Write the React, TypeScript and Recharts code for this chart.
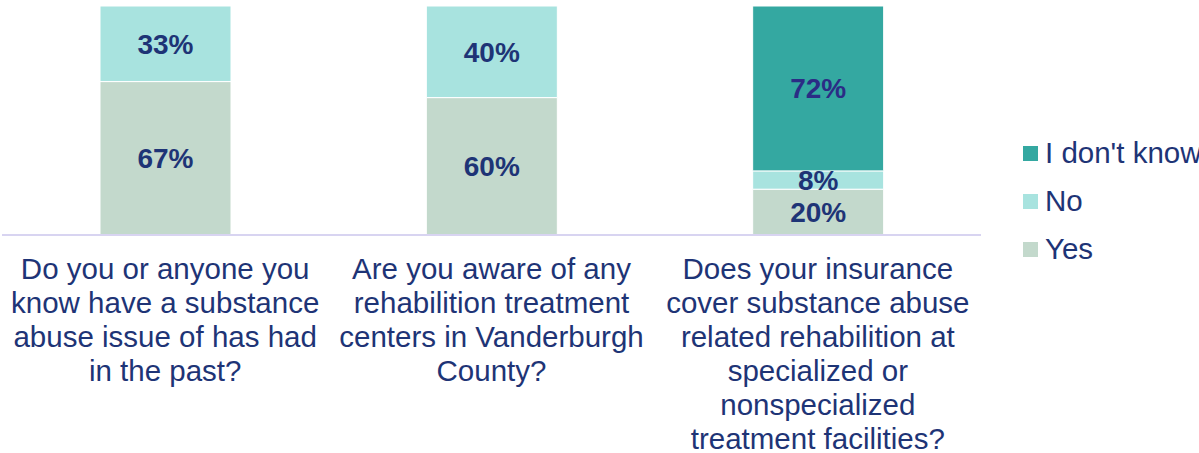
import { BarChart, Bar, XAxis, YAxis, LabelList } from 'recharts';

const questions = [
  "Do you or anyone you\nknow have a substance\nabuse issue of has had\nin the past?",
  "Are you aware of any\nrehabilition treatment\ncenters in Vanderburgh\nCounty?",
  "Does your insurance\ncover substance abuse\nrelated rehabilition at\nspecialized or\nnonspecialized\ntreatment facilities?",
];
const yesValues = [67, 60, 20];
const noValues = [33, 40, 8];
const dontKnowValues = [0, 0, 72];

const seriesNames = ["Yes", "No", "I don't know"];
const colors = ["#C3D9CC", "#A8E3DF", "#34A8A1"];
const textColor = "#1E3476";

const data = questions.map((q, i) => ({
  question: q,
  yes: yesValues[i],
  no: noValues[i],
  dontKnow: dontKnowValues[i],
}));

const QuestionTick = ({ x, y, payload }: any) => {
  const lines = String(payload.value).split("\n");
  return (
    <text x={x} y={y} textAnchor="middle" fill={textColor} fontSize={29.5}>
      {lines.map((line, i) => (
        <tspan key={i} x={x} dy={i === 0 ? 36 : 34}>{line}</tspan>
      ))}
    </text>
  );
};

const legendOrder = [2, 1, 0];

const pct = (v: any) => (v ? `${v}%` : "");

export default function App() {
  return (
    <div style={{ position: 'absolute', left: 0, top: 0, width: 1199, height: 453, background: '#fff', overflow: 'hidden', fontFamily: 'Arial, "Liberation Sans", sans-serif' }}>
      <BarChart width={1199} height={453} data={data} margin={{ top: 6, right: 218, bottom: 188, left: 2 }}>
        <XAxis
          dataKey="question"
          height={30}
          axisLine={{ stroke: '#D8D4F1', strokeWidth: 2 }}
          tickLine={false}
          interval={0}
          tick={<QuestionTick />}
        />
        <YAxis hide domain={[0, 100]} />
        <Bar dataKey="yes" name="Yes" stackId="a" fill={colors[0]} stroke="#fff" strokeWidth={1} barSize={131} isAnimationActive={false}>
          <LabelList dataKey="yes" position="center" formatter={pct} fill={textColor} fontSize={28} fontWeight="bold" />
        </Bar>
        <Bar dataKey="no" name="No" stackId="a" fill={colors[1]} stroke="#fff" strokeWidth={1} barSize={131} isAnimationActive={false}>
          <LabelList dataKey="no" position="center" formatter={pct} fill={textColor} fontSize={28} fontWeight="bold" />
        </Bar>
        <Bar dataKey="dontKnow" name="I don't know" stackId="a" fill={colors[2]} stroke="#fff" strokeWidth={1} barSize={131} isAnimationActive={false}>
          <LabelList dataKey="dontKnow" position="center" formatter={pct} fill="#2B2C85" fontSize={28} fontWeight="bold" />
        </Bar>
      </BarChart>
      <div style={{ position: 'absolute', left: 1023, top: 129 }}>
        {legendOrder.map((idx) => (
          <div key={idx} style={{ display: 'flex', alignItems: 'center', height: 48, color: textColor, fontSize: 29.5 }}>
            <div style={{ width: 15, height: 15, background: colors[idx], marginRight: 7, flexShrink: 0 }} />
            <span style={{ whiteSpace: 'nowrap' }}>{seriesNames[idx]}</span>
          </div>
        ))}
      </div>
    </div>
  );
}
